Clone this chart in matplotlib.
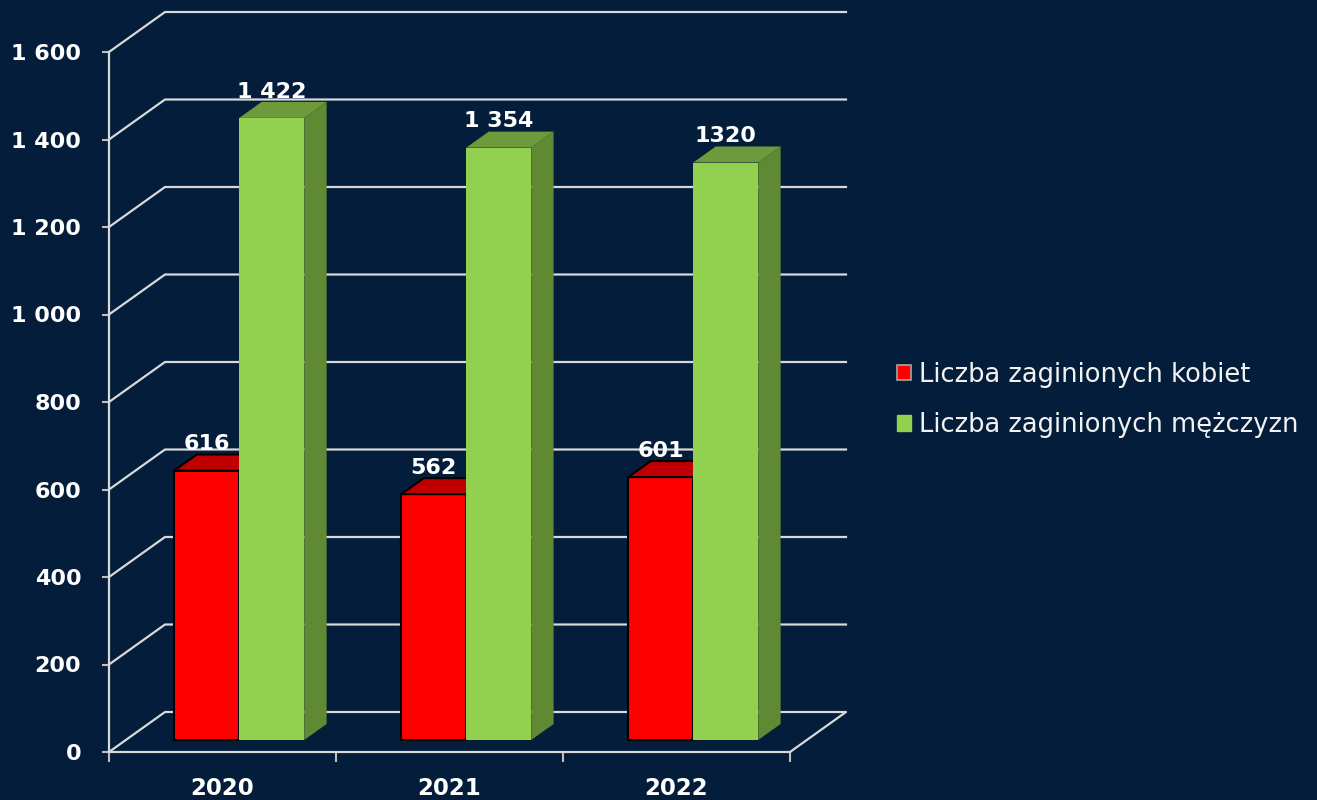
import matplotlib.pyplot as plt
from matplotlib.patches import Polygon, Patch

years = ["2020", "2021", "2022"]
women = [616, 562, 601]
men = [1422, 1354, 1320]
women_labels = ["616", "562", "601"]
men_labels = ["1 422", "1 354", "1320"]
y_ticks = [0, 200, 400, 600, 800, 1000, 1200, 1400, 1600]
y_tick_labels = ["0", "200", "400", "600", "800", "1 000", "1 200", "1 400", "1 600"]
series_names = ["Liczba zaginionych kobiet", "Liczba zaginionych mężczyzn"]

BG = "#031d3b"
GRID = "#d9d9d9"

# fake 3d: depth offset of the back wall, in data units
DX = 56 / 227
DY = 40 / (700 / 1600)
D0 = 0.3      # where the bar front sits in the depth
DD = 0.4      # bar depth
W = 0.286     # bar width

fig = plt.figure(figsize=(13.17, 8), dpi=100, facecolor=BG)
ax = fig.add_axes([109 / 1317, 48 / 800, 681 / 1317, 700 / 800])
ax.set_facecolor(BG)
ax.set_xlim(0, 3)
ax.set_ylim(0, 1600)

# walls and floor
for v in y_ticks:
    if v == 0:
        ax.plot([0, DX, 3 + DX, 3], [0, DY, DY, 0], color=GRID, lw=1.6,
                clip_on=False, zorder=1)
    else:
        ax.plot([0, DX, 3 + DX], [v, v + DY, v + DY], color=GRID, lw=1.6,
                clip_on=False, zorder=1)


def draw_bar(x0, h, front, top, side, edge, label):
    bx = x0 + D0 * DX
    by = D0 * DY
    ddx, ddy = DD * DX, DD * DY
    lw = 1.5 if edge else 0
    ax.bar(bx, h, width=W, bottom=by, align="edge", color=front,
           edgecolor=edge or front, linewidth=lw, zorder=3, clip_on=False)
    ax.add_patch(Polygon([(bx + W, by), (bx + W + ddx, by + ddy),
                          (bx + W + ddx, by + h + ddy), (bx + W, by + h)],
                         closed=True, facecolor=side, edgecolor=edge or side,
                         lw=lw, zorder=3, clip_on=False))
    ax.add_patch(Polygon([(bx, by + h), (bx + W, by + h),
                          (bx + W + ddx, by + h + ddy), (bx + ddx, by + h + ddy)],
                         closed=True, facecolor=top, edgecolor=edge or top,
                         lw=lw, zorder=3, clip_on=False))
    ax.annotate(label, (bx + W / 2, by + h + ddy), xytext=(0, 3),
                textcoords="offset points", ha="center", va="baseline",
                color="white", fontsize=16, fontweight="bold", zorder=5,
                annotation_clip=False)


for i in range(len(years)):
    draw_bar(i + 0.5 - W, women[i], "#ff0000", "#c00000", "#a00000", "black",
             women_labels[i])
    draw_bar(i + 0.5, men[i], "#92d050", "#6f9a3b", "#5f8a33", None,
             men_labels[i])

for s in ["top", "right"]:
    ax.spines[s].set_visible(False)
for s in ["left", "bottom"]:
    ax.spines[s].set_color(GRID)
    ax.spines[s].set_linewidth(1.6)

ax.set_yticks(y_ticks)
ax.set_yticklabels(y_tick_labels)
ax.set_xticks([0, 1, 2, 3])
ax.set_xticklabels([])
ax.set_xticks([0.5, 1.5, 2.5], minor=True)
ax.set_xticklabels(years, minor=True)
ax.tick_params(axis="y", colors="#bfbfbf", length=5, width=1.5, pad=15,
               labelcolor="white", labelsize=16)
ax.tick_params(axis="x", which="major", colors="#bfbfbf", length=7, width=1.5)
ax.tick_params(axis="x", which="minor", length=0, pad=18, labelcolor="white",
               labelsize=16.5)
for t in ax.get_yticklabels() + ax.get_xticklabels(minor=True):
    t.set_fontweight("bold")

handles = [Patch(facecolor="#ff0000", edgecolor="#a6a6a6", lw=1.2),
           Patch(facecolor="#92d050", edgecolor="#92d050")]
fig.legend(handles, series_names, loc="center left",
           bbox_to_anchor=(887 / 1317, 1 - 400 / 800), frameon=False,
           borderaxespad=0, fontsize=18.5, labelcolor="#f2f2f2",
           handlelength=0.55, handleheight=0.55, handletextpad=0.3,
           labelspacing=0.95)

fig.savefig("out.png", dpi=100, facecolor=BG)
